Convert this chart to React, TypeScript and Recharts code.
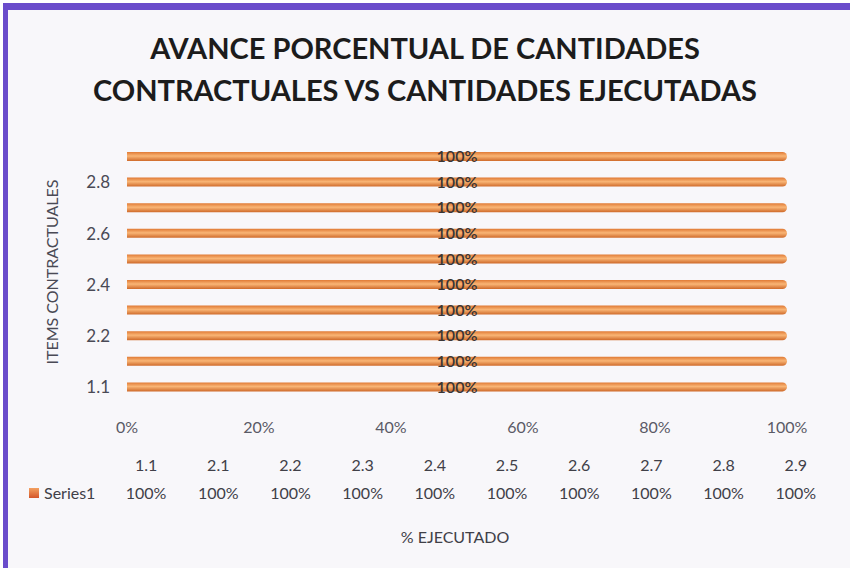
import React from "react";
import { BarChart, Bar, XAxis, YAxis, LabelList, Label } from "recharts";

const CATEGORIES = ["1.1", "2.1", "2.2", "2.3", "2.4", "2.5", "2.6", "2.7", "2.8", "2.9"];
const EJECUTADO = [1, 1, 1, 1, 1, 1, 1, 1, 1, 1];
const X_TICKS = [0, 0.2, 0.4, 0.6, 0.8, 1];
const SERIES_NAME = "Series1";

const FONT = "Lato, 'Open Sans', sans-serif";
const pct = (v: number) => `${Math.round(v * 100)}%`;

const chartData = CATEGORIES.map((item, i) => ({ item, value: EJECUTADO[i] }));

export default function App() {
  return (
    <div
      style={{
        position: "absolute",
        left: 0,
        top: 0,
        width: 850,
        height: 568,
        background: "#ffffff",
        fontFamily: FONT,
        overflow: "hidden",
      }}
    >
      {/* frame */}
      <div
        style={{
          position: "absolute",
          left: 3,
          top: 3,
          width: 860,
          height: 558,
          borderLeft: "5px solid #6a4ccb",
          borderTop: "7px solid #6a4ccb",
          borderBottom: "6px solid #6a4ccb",
          background: "#f8f7fa",
        }}
      />

      <div
        style={{
          position: "absolute",
          left: 0,
          top: 27,
          width: 850,
          textAlign: "center",
          fontWeight: 700,
          fontSize: 29,
          lineHeight: "42px",
          color: "#1c1c1c",
        }}
      >
        AVANCE PORCENTUAL DE CANTIDADES
        <br />
        CONTRACTUALES VS CANTIDADES EJECUTADAS
      </div>

      <div style={{ position: "absolute", left: 0, top: 0 }}>
        <BarChart
          width={850}
          height={450}
          data={chartData}
          layout="vertical"
          margin={{ top: 144, right: 63, bottom: 0, left: 0 }}
        >
          <defs>
            <linearGradient id="barGrad" x1="0" y1="0" x2="0" y2="1">
              <stop offset="0%" stopColor="#e07a35" />
              <stop offset="45%" stopColor="#f9b575" />
              <stop offset="100%" stopColor="#cf6a2a" />
            </linearGradient>
          </defs>
          <XAxis
            type="number"
            domain={[0, 1]}
            ticks={X_TICKS}
            tickFormatter={pct}
            axisLine={false}
            tickLine={false}
            height={50}
            tickMargin={16}
            tick={{ fontSize: 16, fill: "#5a5a66", fontFamily: FONT }}
          />
          <YAxis
            type="category"
            dataKey="item"
            reversed
            interval={1}
            width={127}
            axisLine={false}
            tickLine={false}
            tickMargin={11}
            tick={{ fontSize: 17, fill: "#4a4a55", fontFamily: FONT }}
          >
            <Label
              value="ITEMS CONTRACTUALES"
              angle={-90}
              position="center"
              dx={-11}
              style={{ fontSize: 16, fill: "#4a4a55", fontFamily: FONT }}
            />
          </YAxis>
          <Bar
            dataKey="value"
            barSize={9}
            fill="url(#barGrad)"
            radius={[0, 4.5, 4.5, 0]}
            isAnimationActive={false}
          >
            <LabelList
              dataKey="value"
              position="center"
              formatter={(v: any) => pct(Number(v))}
              style={{ fontSize: 16, fill: "#3a3535", fontWeight: 600, fontFamily: FONT }}
            />
          </Bar>
        </BarChart>
      </div>

      {/* data table */}
      <div
        style={{
          position: "absolute",
          left: 110,
          top: 455,
          display: "flex",
          fontSize: 16,
          color: "#404048",
        }}
      >
        {CATEGORIES.map((c) => (
          <div key={c} style={{ width: 72.2, textAlign: "center" }}>
            {c}
          </div>
        ))}
      </div>
      <div
        style={{
          position: "absolute",
          left: 29,
          top: 483,
          display: "flex",
          alignItems: "center",
          fontSize: 16,
          color: "#404048",
        }}
      >
        <div
          style={{
            width: 10,
            height: 10,
            marginRight: 5,
            background: "linear-gradient(#f3a060, #d4552a)",
          }}
        />
        {SERIES_NAME}
      </div>
      <div
        style={{
          position: "absolute",
          left: 110,
          top: 483,
          display: "flex",
          fontSize: 16,
          color: "#404048",
        }}
      >
        {EJECUTADO.map((v, i) => (
          <div key={i} style={{ width: 72.2, textAlign: "center" }}>
            {pct(v)}
          </div>
        ))}
      </div>
      <div
        style={{
          position: "absolute",
          left: 0,
          top: 527,
          width: 910,
          textAlign: "center",
          fontSize: 16,
          color: "#404048",
        }}
      >
        % EJECUTADO
      </div>
    </div>
  );
}
